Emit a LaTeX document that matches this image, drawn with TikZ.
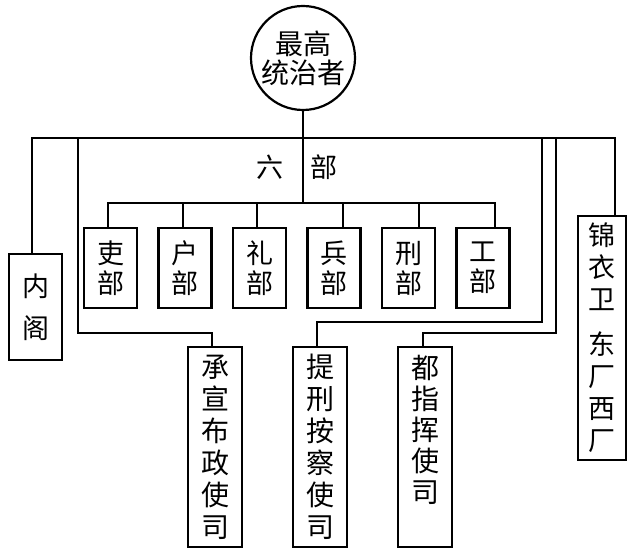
\documentclass[tikz,border=0pt]{standalone}
\usepackage{fontspec}
\newfontfamily\cjk{Noto Sans CJK SC}
\begin{document}
\begin{tikzpicture}[x=1pt,y=-1pt,
  every node/.style={font=\cjk\fontsize{27}{31}\selectfont, inner sep=0pt, align=center},
  box/.style={draw, line width=2.2pt, minimum width=53pt},
  dept/.style={box, minimum height=80pt, font=\cjk\fontsize{27}{30}\selectfont},
  tall/.style={box, minimum width=54pt, minimum height=200pt, font=\cjk\fontsize{28}{32}\selectfont},
  conn/.style={line width=2pt, line cap=rect}]
\useasboundingbox (0,0) rectangle (643,553);

\node[draw, circle, line width=2.2pt, minimum size=104pt, font=\cjk\fontsize{28}{29}\selectfont] (top) at (303,58) {最高\\统治者};

\node[box, minimum height=106pt, font=\cjk\fontsize{27}{42}\selectfont] (neige) at (35.5,307) {内\\阁};

\node[dept] (li)   at (110.5,268) {吏\\部};
\node[dept] (hu)   at (185,268) {户\\部};
\node[dept] (lib)  at (259.5,268) {礼\\部};
\node[dept] (bing) at (334,268) {兵\\部};
\node[dept] (xing) at (408.5,268) {刑\\部};
\node[dept] (gong) at (483,268) {工\\部};

\node (liu) at (270,167) {六};
\node (bu)  at (324,167) {部};

\node[tall] (cx) at (215,447) {承\\宣\\布\\政\\使\\司};
\node[tall] (tx) at (320,447) {提\\刑\\按\\察\\使\\司};
\node[tall, label={[anchor=north, yshift=-9pt, font=\cjk\fontsize{28}{31}\selectfont, align=center]north:{都\\指\\挥\\使\\司}}] (dz) at (425,447) {};
\node[box, minimum width=48pt, minimum height=244pt, font=\cjk\fontsize{27}{32}\selectfont] (jyw) at (602,338) {锦\\衣\\卫\\[13pt]东\\厂\\西\\厂};

% main horizontal line
\coordinate (L) at (32,138);
\coordinate (R) at (615,138);
\coordinate (bar) at (303,203);
\draw[conn] (L) -- (R);
\draw[conn] (L) -- (L |- neige.north);
\draw[conn] (R) -- (R |- jyw.north);
\draw[conn] (top.south) -- (bar);

% six ministries bar
\coordinate (d1) at (108,203);
\coordinate (d2) at (183,203);
\coordinate (d3) at (257,203);
\coordinate (d4) at (343,203);
\coordinate (d5) at (419,203);
\coordinate (d6) at (495,203);
\draw[conn] (d1) -- (d6);
\draw[conn] (d1) -- (d1 |- li.north);
\draw[conn] (d2) -- (d2 |- hu.north);
\draw[conn] (d3) -- (d3 |- lib.north);
\draw[conn] (d4) -- (d4 |- bing.north);
\draw[conn] (d5) -- (d5 |- xing.north);
\draw[conn] (d6) -- (d6 |- gong.north);

% provincial offices
\coordinate (a1) at (78,138);
\coordinate (a2) at (212,333);
\draw[conn] (a1) |- (a2) -- (a2 |- cx.north);
\coordinate (b1) at (542,138);
\coordinate (b2) at (317,322);
\draw[conn] (b1) |- (b2) -- (b2 |- tx.north);
\coordinate (c1) at (556,138);
\coordinate (c2) at (423,333);
\draw[conn] (c1) |- (c2) -- (c2 |- dz.north);
\end{tikzpicture}
\end{document}
